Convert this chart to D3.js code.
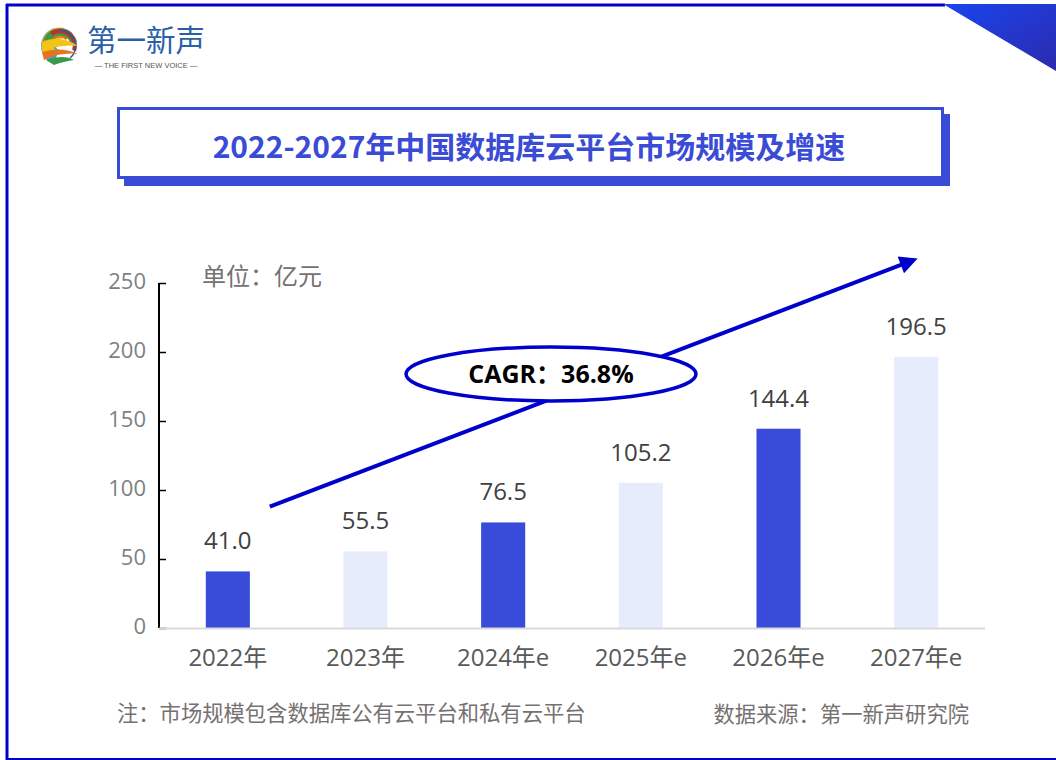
<!DOCTYPE html>
<html><head><meta charset="utf-8">
<script src="https://cdn.jsdelivr.net/npm/d3@7"></script>
<style>
html,body{margin:0;padding:0;background:#fff;}
svg{display:block;}
text{font-family:"Open Sans","Noto Sans CJK SC",sans-serif;}
</style></head>
<body>
<svg id="chart" width="1056" height="760"></svg>
<script>
const categories = ["2022年","2023年","2024年e","2025年e","2026年e","2027年e"];
const values = [41.0, 55.5, 76.5, 105.2, 144.4, 196.5];
const valueLabels = ["41.0","55.5","76.5","105.2","144.4","196.5"];
const yTicks = [0, 50, 100, 150, 200, 250];
const titleText = "2022-2027年中国数据库云平台市场规模及增速";
const unitText = "单位：亿元";
const cagrText = "CAGR：36.8%";
const noteText = "注：市场规模包含数据库公有云平台和私有云平台";
const sourceText = "数据来源：第一新声研究院";

const svg = d3.select("#chart");
const W = 1056, H = 760;
const dark = "#384bd9", light = "#e6ecfb", border = "#0000cc";

// frame
const defs = svg.append("defs");
const grad = defs.append("linearGradient").attr("id","tri").attr("x1","0").attr("y1","0").attr("x2","1").attr("y2","1");
grad.append("stop").attr("offset","0").attr("stop-color","#1a44ee");
grad.append("stop").attr("offset","1").attr("stop-color","#2c2aae");
svg.append("line").attr("x1",6).attr("x2",945).attr("y1",5).attr("y2",5).attr("stroke",border).attr("stroke-width",3);
svg.append("line").attr("x1",7).attr("x2",7).attr("y1",4).attr("y2",H).attr("stroke",border).attr("stroke-width",3);
svg.append("line").attr("x1",6).attr("x2",W).attr("y1",759).attr("y2",759).attr("stroke",border).attr("stroke-width",2);
svg.append("path").attr("d","M943,4 L1056,4 L1056,71 Z").attr("fill","url(#tri)");

// logo
const logo = svg.append("g").attr("transform","translate(60,46)");
const logoCols = ["#3aa0d8","#f2c318","#e8731c","#3b9a4a","#c0302a","#1f5fae"];
const arc = d3.arc();
logoCols.forEach((c,i)=>{
  logo.append("path").attr("d", arc({innerRadius:4+i*2.2, outerRadius:19-i*0.5, startAngle:-Math.PI*0.9+i*0.55, endAngle:-Math.PI*0.1+i*0.55})).attr("fill",c);
});
logo.append("path").attr("d","M-18,-4 Q0,-12 18,0 Q0,-2 -18,6 Z").attr("fill","#f2c318");
logo.append("path").attr("d","M-18,6 Q2,0 18,8 Q0,6 -16,14 Z").attr("fill","#e8731c");
logo.append("path").attr("d","M-14,14 Q4,8 14,14 Q2,16 -6,19 Z").attr("fill","#3b9a4a");
svg.append("text").attr("x",87).attr("y",51).attr("font-size",29.5).attr("fill","#2b5fa8")
  .style("font-family","'Noto Sans CJK SC'").text("第一新声");
svg.append("text").attr("x",146).attr("y",67.5).attr("text-anchor","middle").attr("font-size",7.5).attr("fill","#555")
  .style("font-family","'Liberation Sans'").text("— THE FIRST NEW VOICE —");

// title box
svg.append("rect").attr("x",124).attr("y",114).attr("width",826).attr("height",72).attr("fill","#3a4bd6");
svg.append("rect").attr("x",118.5).attr("y",108.5).attr("width",824).attr("height",69).attr("fill","#fff")
  .attr("stroke","#3a4bd6").attr("stroke-width",3);
svg.append("text").attr("x",529).attr("y",158).attr("text-anchor","middle").attr("font-size",30).attr("font-weight",700)
  .attr("fill","#3a4bd6").style("font-family","'Noto Sans CJK SC'").text(titleText);

// scales
const x = d3.scaleBand().domain(categories).range([159,985]).paddingInner(0.68).paddingOuter(0.34);
const y = d3.scaleLinear().domain([0,250]).range([628,283]);

// y axis
const yAxis = d3.axisRight(y).tickValues(yTicks).tickSize(7).tickFormat("");
const gy = svg.append("g").attr("transform","translate(159,0)").call(yAxis);
gy.select(".domain").attr("stroke","#000").attr("stroke-width",2).attr("d","M0,283V628");
gy.selectAll(".tick line").attr("stroke","#000").attr("stroke-width",1.5);
svg.append("g").selectAll("text").data(yTicks).join("text")
  .attr("x",146).attr("y",d=>y(d)+6).attr("text-anchor","end").attr("font-size",22).attr("fill","#7f7f7f").text(d=>d);

// bars
svg.append("g").selectAll("rect").data(values).join("rect")
  .attr("x",(d,i)=>x(categories[i])).attr("width",x.bandwidth())
  .attr("y",d=>y(d)).attr("height",d=>y(0)-y(d))
  .attr("fill",(d,i)=>i%2===0?dark:light);

// x axis line
svg.append("line").attr("x1",159).attr("x2",985).attr("y1",628.5).attr("y2",628.5).attr("stroke","#d9d9d9").attr("stroke-width",2);
const xAxis = d3.axisBottom(x).tickSize(0);
const gx = svg.append("g").attr("transform","translate(0,628)").call(xAxis);
gx.select(".domain").remove();
gx.selectAll(".tick text").attr("dy",0).attr("y",38).attr("font-size",24).attr("fill","#595959")
  .style("font-family","'Open Sans','Noto Sans CJK SC'");

// value labels
svg.append("g").selectAll("text").data(values).join("text")
  .attr("x",(d,i)=>x(categories[i])+x.bandwidth()/2).attr("y",d=>y(d)-22)
  .attr("text-anchor","middle").attr("font-size",24).attr("fill","#404040").text((d,i)=>valueLabels[i]);

// unit
svg.append("text").attr("x",202).attr("y",285).attr("font-size",24).attr("fill","#767171")
  .style("font-family","'Noto Sans CJK SC'").text(unitText);

// CAGR arrow
defs.append("marker").attr("id","ah").attr("viewBox","0 0 10 10").attr("refX",2).attr("refY",5)
  .attr("markerWidth",5).attr("markerHeight",4.5).attr("orient","auto").attr("markerUnits","strokeWidth")
  .append("path").attr("d","M0,0 L10,5 L0,10 Z").attr("fill",border);
const cx0 = x(categories[0]) + x.bandwidth()/2 + 42, cy0 = y(88);
const cx1 = x(categories[5]) + x.bandwidth()/2 - 12, cy1 = y(264);
svg.append("line").attr("x1",cx0).attr("y1",cy0).attr("x2",cx1).attr("y2",cy1)
  .attr("stroke",border).attr("stroke-width",4).attr("marker-end","url(#ah)");
svg.append("ellipse").attr("cx",551).attr("cy",374).attr("rx",145).attr("ry",27)
  .attr("fill","#fff").attr("stroke",border).attr("stroke-width",3.5);
svg.append("text").attr("x",551).attr("y",383).attr("text-anchor","middle").attr("font-size",25).attr("font-weight",700)
  .attr("fill","#000").style("font-family","'Open Sans','Noto Sans CJK SC'").text(cagrText);

// notes
svg.append("text").attr("x",117).attr("y",721).attr("font-size",21.3).attr("fill","#767171")
  .style("font-family","'Noto Sans CJK SC'").text(noteText);
svg.append("text").attr("x",969).attr("y",722).attr("text-anchor","end").attr("font-size",21.3).attr("fill","#767171")
  .style("font-family","'Noto Sans CJK SC'").text(sourceText);
</script>
</body></html>
